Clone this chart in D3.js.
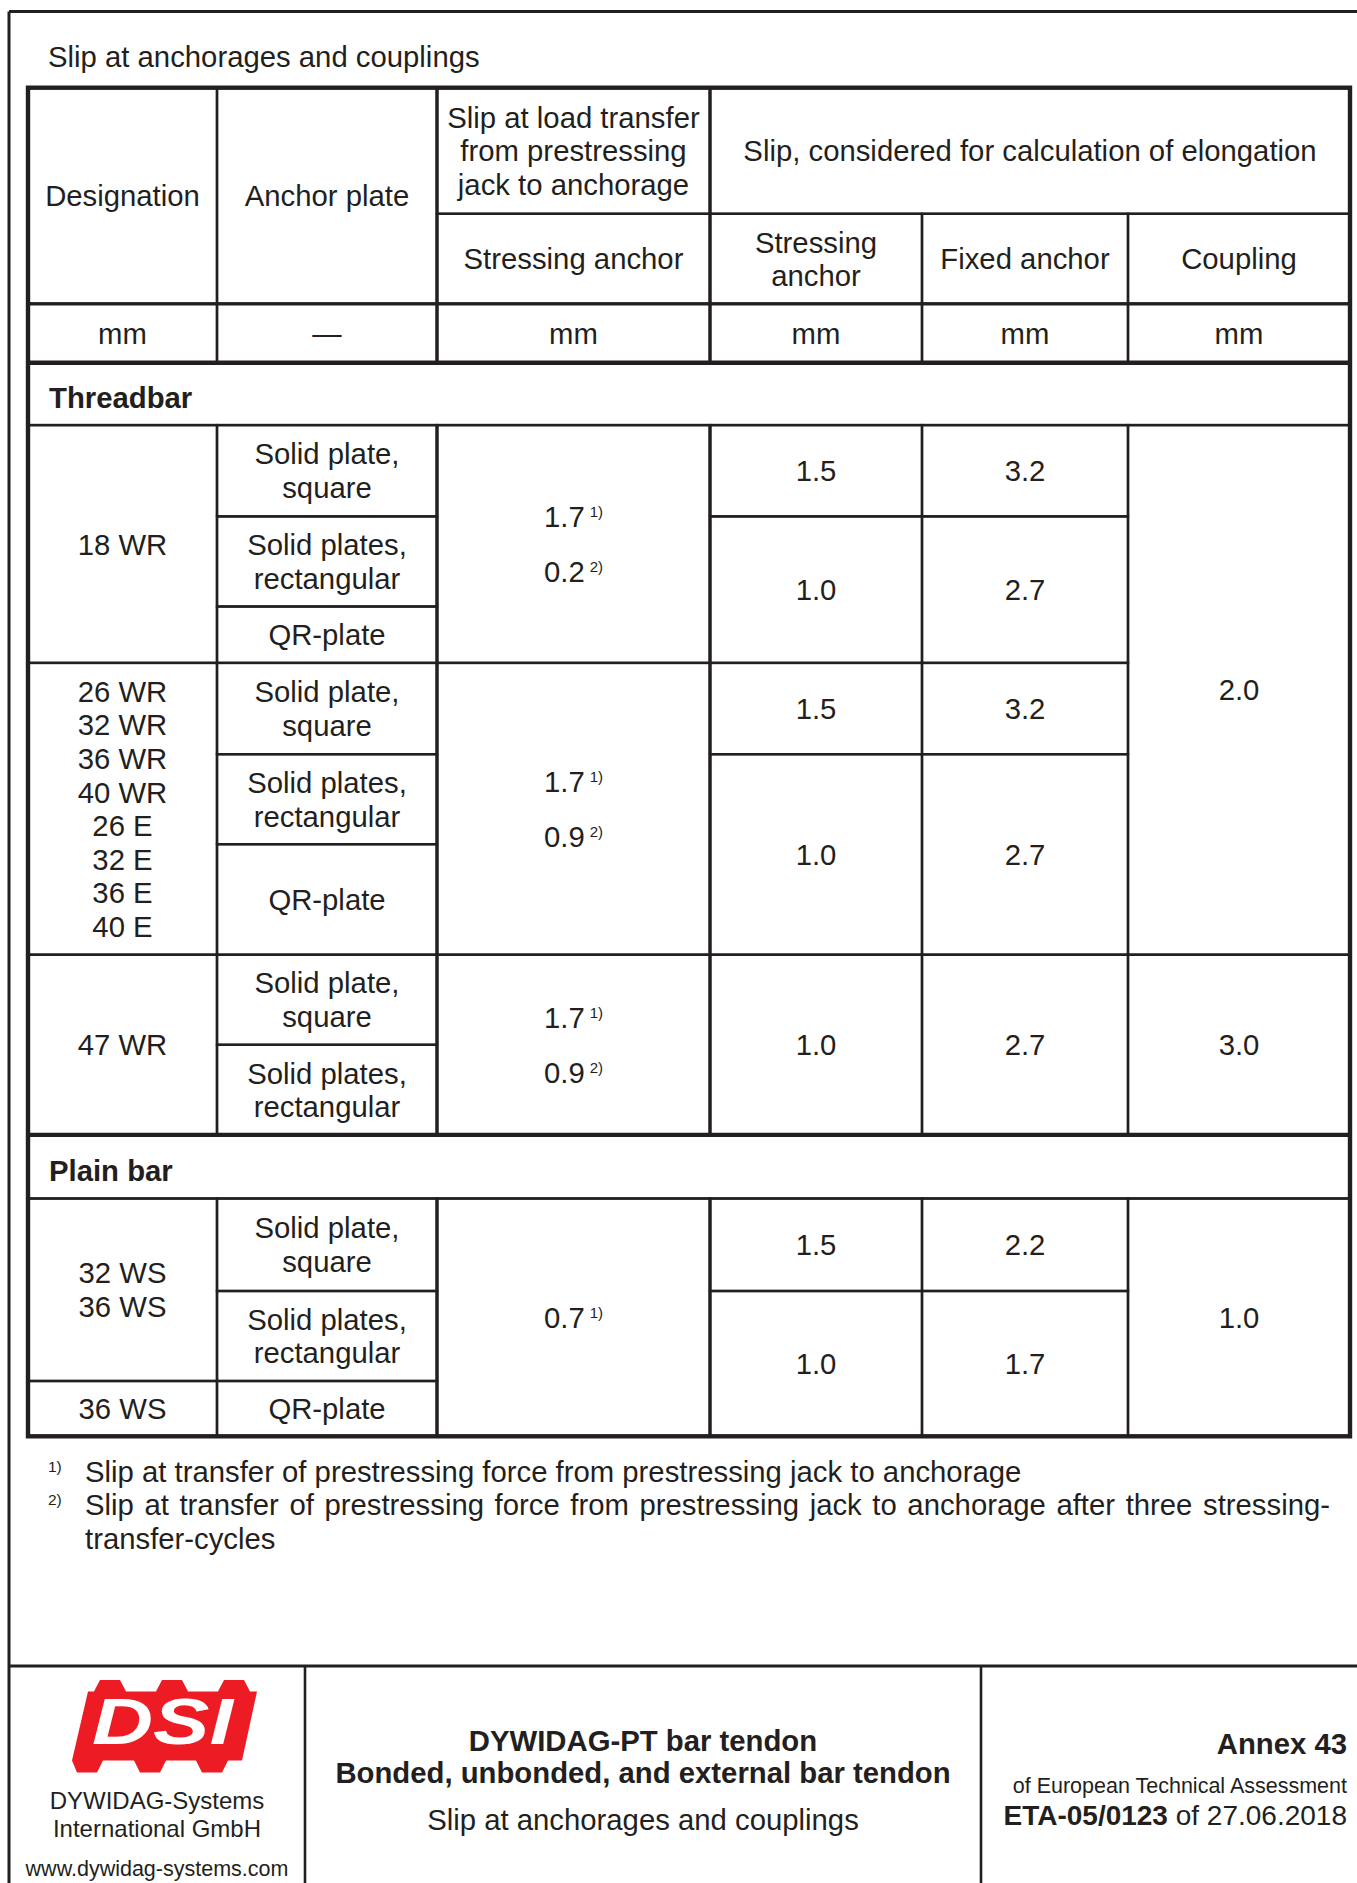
<!DOCTYPE html>
<html>
<head>
<meta charset="utf-8">
<script src="https://cdn.jsdelivr.net/npm/d3@7"></script>
<style>
  body { margin: 0; background: #fff; }
  svg text { font-family: "Liberation Sans", Arial, sans-serif; fill: #231f20; }
</style>
</head>
<body>
<div id="sheet"></div>
<script>
// ---- table content ----
var title = "Slip at anchorages and couplings";
var headTop = ["Designation", "Anchor plate", "Slip at load transfer\nfrom prestressing\njack to anchorage",
               "Slip, considered for calculation of elongation"];
var headSub = ["Stressing anchor", "Stressing\nanchor", "Fixed anchor", "Coupling"];
var units = ["mm", "\u2014", "mm", "mm", "mm", "mm"];
var sections = ["Threadbar", "Plain bar"];

var anchorPlates = [
  "Solid plate,\nsquare", "Solid plates,\nrectangular", "QR-plate",
  "Solid plate,\nsquare", "Solid plates,\nrectangular", "QR-plate",
  "Solid plate,\nsquare", "Solid plates,\nrectangular",
  "Solid plate,\nsquare", "Solid plates,\nrectangular", "QR-plate"
];
var designations = [["18 WR"], ["26 WR", "32 WR", "36 WR", "40 WR", "26 E", "32 E", "36 E", "40 E"],
                    ["47 WR"], ["32 WS", "36 WS"], ["36 WS"]];
var designationSpans = [[0, 2], [3, 5], [6, 7], [8, 9], [10, 10]];

var transferSlip = [["1.7", "0.2"], ["1.7", "0.9"], ["1.7", "0.9"], ["0.7"]];
var transferNotes = [["1)", "2)"], ["1)", "2)"], ["1)", "2)"], ["1)"]];
var transferSpans = [[0, 2], [3, 5], [6, 7], [8, 10]];

var stressingSlip = ["1.5", "1.0", "1.5", "1.0", "1.0", "1.5", "1.0"];
var fixedSlip     = ["3.2", "2.7", "3.2", "2.7", "2.7", "2.2", "1.7"];
var slipSpans = [[0, 0], [1, 2], [3, 3], [4, 5], [6, 7], [8, 8], [9, 10]];

var couplingSlip = ["2.0", "3.0", "1.0"];
var couplingSpans = [[0, 5], [6, 7], [8, 10]];

var footnoteMarks = ["1)", "2)"];
var footnoteLines = [
  "Slip at transfer of prestressing force from prestressing jack to anchorage",
  "Slip at transfer of prestressing force from prestressing jack to anchorage after three stressing-",
  "transfer-cycles"
];

// ---- layout ----
var W = 1357, H = 1883;
var FS = 29.3, LH = 33.6, BASE = 10.5;
var ink = "#231f20";
var thin = 2.4, mid = 3.2, thick = 4.4;

var colEdges = [28, 217, 437, 710, 922, 1128, 1350];
var x = d3.scaleLinear().domain(d3.range(colEdges.length)).range(colEdges);

var headY = [87.7, 213.8, 303.8, 362.7];   // header top, split, units top, body top
var subRowH = [91.3, 90.1, 56.4, 91.3, 90, 110.5, 90.1, 90.1, 92.5, 90, 55.3];
var sectionStart = [0, 8], sectionH = [62.4, 63.6];

var rowTop = [], sectionTop = [], yy = headY[3];
subRowH.forEach(function(h, i) {
  var s = sectionStart.indexOf(i);
  if (s >= 0) { sectionTop.push(yy); yy += sectionH[s]; }
  rowTop.push(yy);
  yy += h;
});
var tableBottom = yy;
function spanY(sp) { return [rowTop[sp[0]], rowTop[sp[1]] + subRowH[sp[1]]]; }

var svg = d3.select("#sheet").append("svg")
  .attr("width", W).attr("height", H)
  .attr("viewBox", [0, 0, W, H]);
svg.append("rect").attr("width", W).attr("height", H).attr("fill", "#fff");

var grid = svg.append("g").attr("fill", "none").attr("stroke", ink);
var labels = svg.append("g").attr("font-size", FS);

function cell(c0, c1, y0, y1) {
  grid.append("rect")
    .attr("x", x(c0)).attr("y", y0)
    .attr("width", x(c1) - x(c0)).attr("height", y1 - y0)
    .attr("stroke-width", thin);
}

function label(cx, cy, lines) {
  if (!Array.isArray(lines)) lines = lines.split("\n");
  var t = labels.append("text").attr("text-anchor", "middle");
  var y0 = cy - (lines.length - 1) * LH / 2 + BASE;
  lines.forEach(function(s, i) {
    t.append("tspan").attr("x", cx).attr("y", y0 + i * LH).text(s);
  });
  return t;
}

function line(x1, y1, x2, y2, w) {
  grid.append("line").attr("x1", x1).attr("y1", y1).attr("x2", x2).attr("y2", y2)
    .attr("stroke-width", w);
}

// ---- header ----
cell(0, 1, headY[0], headY[2]);
cell(1, 2, headY[0], headY[2]);
cell(2, 3, headY[0], headY[1]);
cell(3, 6, headY[0], headY[1]);
label((x(0) + x(1)) / 2, (headY[0] + headY[2]) / 2, headTop[0]);
label((x(1) + x(2)) / 2, (headY[0] + headY[2]) / 2, headTop[1]);
label((x(2) + x(3)) / 2, (headY[0] + headY[1]) / 2, headTop[2]);
label((x(3) + x(6)) / 2, (headY[0] + headY[1]) / 2, headTop[3]);
headSub.forEach(function(s, i) {
  cell(i + 2, i + 3, headY[1], headY[2]);
  label((x(i + 2) + x(i + 3)) / 2, (headY[1] + headY[2]) / 2, s);
});
units.forEach(function(s, i) {
  cell(i, i + 1, headY[2], headY[3]);
  label((x(i) + x(i + 1)) / 2, (headY[2] + headY[3]) / 2, s);
});

// ---- sections ----
sections.forEach(function(s, i) {
  cell(0, 6, sectionTop[i], sectionTop[i] + sectionH[i]);
  labels.append("text")
    .attr("x", 49).attr("y", sectionTop[i] + sectionH[i] / 2 + 14.5)
    .attr("font-weight", "bold").text(s);
});

// ---- body cells ----
designations.forEach(function(d, i) {
  var yr = spanY(designationSpans[i]);
  cell(0, 1, yr[0], yr[1]);
  label((x(0) + x(1)) / 2, (yr[0] + yr[1]) / 2, d);
});
anchorPlates.forEach(function(a, i) {
  var yr = spanY([i, i]);
  cell(1, 2, yr[0], yr[1]);
  label((x(1) + x(2)) / 2, (yr[0] + yr[1]) / 2, a);
});
transferSlip.forEach(function(vals, i) {
  var yr = spanY(transferSpans[i]);
  cell(2, 3, yr[0], yr[1]);
  var cy = (yr[0] + yr[1]) / 2, gap = 55;
  vals.forEach(function(v, k) {
    var t = labels.append("text").attr("text-anchor", "middle")
      .attr("x", (x(2) + x(3)) / 2)
      .attr("y", cy + (k - (vals.length - 1) / 2) * gap + BASE);
    t.append("tspan").text(v);
    t.append("tspan").attr("font-size", 15).attr("dx", 5).attr("dy", -10).text(transferNotes[i][k]);
  });
});
slipSpans.forEach(function(sp, i) {
  var yr = spanY(sp), cy = (yr[0] + yr[1]) / 2;
  cell(3, 4, yr[0], yr[1]);
  cell(4, 5, yr[0], yr[1]);
  label((x(3) + x(4)) / 2, cy, stressingSlip[i]);
  label((x(4) + x(5)) / 2, cy, fixedSlip[i]);
});
couplingSlip.forEach(function(v, i) {
  var yr = spanY(couplingSpans[i]);
  cell(5, 6, yr[0], yr[1]);
  label((x(5) + x(6)) / 2, (yr[0] + yr[1]) / 2, v);
});

// ---- heavy rules ----
var body1 = [rowTop[0], sectionTop[1]], body2 = [rowTop[8], tableBottom];
[2, 3].forEach(function(c) {
  line(x(c), headY[0], x(c), headY[3], mid);
  line(x(c), body1[0], x(c), body1[1], mid);
  line(x(c), body2[0], x(c), body2[1], mid);
});
line(x(0), headY[2], x(6), headY[2], mid);
line(x(0), headY[3], x(6), headY[3], thick);
line(x(0), sectionTop[1], x(6), sectionTop[1], thick);
grid.append("rect")
  .attr("x", x(0)).attr("y", headY[0])
  .attr("width", x(6) - x(0)).attr("height", tableBottom - headY[0])
  .attr("stroke-width", thick);

// ---- page frame and title ----
line(9, 11.5, W, 11.5, 3);
line(9, 11.5, 9, H, 3);
labels.append("text").attr("x", 48).attr("y", 67).text(title);

// ---- footnotes ----
footnoteMarks.forEach(function(m, i) {
  labels.append("text").attr("x", 48).attr("y", 1471 + i * LH + BASE - 10)
    .attr("font-size", 15.5).text(m);
});
footnoteLines.forEach(function(s, i) {
  var t = labels.append("text").attr("x", 85).attr("y", 1471 + i * LH + BASE).text(s);
  if (i === 1) {
    var len = t.node().getComputedTextLength();
    var gaps = s.split(" ").length - 1;
    t.attr("word-spacing", (1330 - 85 - len) / gaps);
  }
});

// ---- title block ----
var fTop = 1666;
line(9, fTop, W, fTop, 3);
line(305, fTop, 305, H, 2.6);
line(981, fTop, 981, H, 2.6);

// DSI logo
svg.append("path")
  .attr("fill", "#ed1c24")
  .attr("d", "M88,1691.5 L94,1691.5 L100,1680 L120,1680 L126,1691.5 " +
             "L156,1691.5 L162,1680 L182,1680 L188,1691.5 " +
             "L218,1691.5 L224,1680 L244,1680 L250,1691.5 L257,1691.5 " +
             "L242,1760.5 L228,1760.5 L222,1772.5 L202,1772.5 L196,1760.5 " +
             "L166,1760.5 L160,1772.5 L140,1772.5 L134,1760.5 " +
             "L103,1760.5 L97,1772.5 L77,1772.5 L72,1760.5 Z");
svg.append("text")
  .attr("x", 92).attr("y", 1744)
  .attr("font-size", 64).attr("font-weight", "bold").attr("font-style", "italic")
  .attr("textLength", 141).attr("lengthAdjust", "spacingAndGlyphs")
  .style("fill", "#fff").text("DSI");

var left = labels.append("g").attr("text-anchor", "middle");
left.append("text").attr("x", 157).attr("y", 1809).attr("font-size", 24).text("DYWIDAG-Systems");
left.append("text").attr("x", 157).attr("y", 1837).attr("font-size", 24).text("International GmbH");
left.append("text").attr("x", 157).attr("y", 1876).attr("font-size", 21.5).text("www.dywidag-systems.com");

var midB = labels.append("g").attr("text-anchor", "middle");
midB.append("text").attr("x", 643).attr("y", 1750.5).attr("font-weight", "bold").text("DYWIDAG-PT bar tendon");
midB.append("text").attr("x", 643).attr("y", 1783).attr("font-weight", "bold").text("Bonded, unbonded, and external bar tendon");
midB.append("text").attr("x", 643).attr("y", 1830).text("Slip at anchorages and couplings");

var right = labels.append("g").attr("text-anchor", "end");
right.append("text").attr("x", 1347).attr("y", 1754).attr("font-weight", "bold").text("Annex 43");
right.append("text").attr("x", 1347).attr("y", 1793).attr("font-size", 21.5).text("of European Technical Assessment");
var eta = right.append("text").attr("x", 1347).attr("y", 1825).attr("font-size", 28);
eta.append("tspan").attr("font-weight", "bold").text("ETA-05/0123");
eta.append("tspan").text(" of 27.06.2018");
</script>
</body>
</html>
